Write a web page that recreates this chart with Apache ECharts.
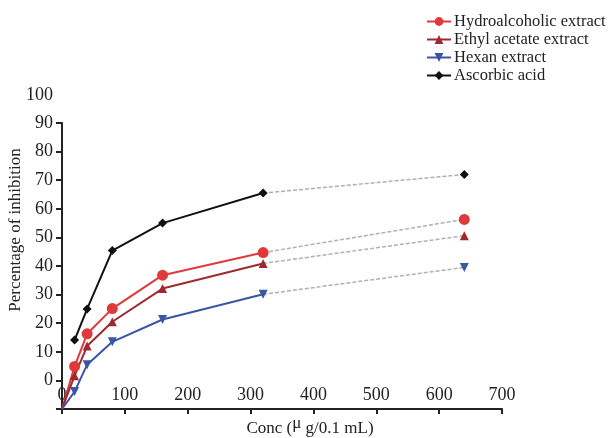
<!DOCTYPE html>
<html>
<head>
<meta charset="utf-8">
<script src="https://cdn.jsdelivr.net/npm/echarts@6/dist/echarts.min.js"></script>
<style>
  html, body { margin: 0; padding: 0; background: #fff; }
  #chart { width: 613px; height: 438px; }
</style>
</head>
<body>
<div id="chart"></div>
<script>
// concentrations (µg/0.1 mL); first point is the origin the extract lines start from
const conc = [0, 20, 40, 80, 160, 320, 640];
const hydro = [-10, 4.9, 16.3, 25.1, 36.8, 44.7, 56.3];
const ethyl = [-10, 1.6, 12.0, 20.5, 32.1, 40.9, 50.6];
const hexan = [-10, -3.9, 5.5, 13.5, 21.3, 30.1, 39.5];
const ascorbic = [null, 14.1, 25.0, 45.4, 55.0, 65.5, 72.0];
const names = ['Hydroalcoholic extract', 'Ethyl acetate extract', 'Hexan extract', 'Ascorbic acid'];
const yTopLabel = '100';
const xTitle = 'Conc (';
const xTitleMu = 'μ';
const xTitleRest = ' g/0.1 mL)';

const font = 'Liberation Serif';
const lastSolid = 5; // index of 320, solid lines end here

const looks = [
    { color: '#e0393c', symbol: 'circle', size: 11, rotate: 0 },
    { color: '#9c2a2e', symbol: 'triangle', size: 9, rotate: 0 },
    { color: '#3a55a4', symbol: 'triangle', size: 9, rotate: 180 },
    { color: '#111111', symbol: 'diamond', size: 9, rotate: 0 }
];

function solidData(vals) {
    const out = [];
    for (let i = 0; i <= lastSolid; i++) {
        if (vals[i] == null) continue;
        const item = { value: [conc[i], vals[i]] };
        if (i === 0) item.symbol = 'none';
        out.push(item);
    }
    return out;
}

function dashData(vals) {
    const out = [];
    for (let i = lastSolid; i < conc.length; i++) {
        const item = { value: [conc[i], vals[i]] };
        if (i === lastSolid) item.symbol = 'none';
        out.push(item);
    }
    return out;
}

const allVals = [hydro, ethyl, hexan, ascorbic];
const series = [];
allVals.forEach(function (vals, k) {
    const lk = looks[k];
    series.push({
        type: 'line',
        name: names[k] + '_ext',
        data: dashData(vals),
        symbol: lk.symbol,
        symbolSize: lk.size,
        symbolRotate: lk.rotate,
        itemStyle: { color: lk.color },
        lineStyle: { color: '#b0b0b0', width: 1.5, type: [4, 2] },
        z: 1,
        animation: false
    });
});
allVals.forEach(function (vals, k) {
    const lk = looks[k];
    series.push({
        type: 'line',
        name: names[k],
        data: solidData(vals),
        symbol: lk.symbol,
        symbolSize: lk.size,
        symbolRotate: lk.rotate,
        itemStyle: { color: lk.color },
        lineStyle: { color: lk.color, width: 2 },
        z: 3,
        animation: false
    });
});

const chart = echarts.init(document.getElementById('chart'));
chart.setOption({
    backgroundColor: '#fff',
    animation: false,
    grid: { left: 62, right: 111, top: 123, bottom: 29, containLabel: false, outerBoundsMode: 'none' },
    legend: {
        data: names,
        orient: 'vertical',
        left: 421,
        top: 8,
        itemWidth: 24,
        itemHeight: 11,
        itemGap: 1,
        textStyle: { fontFamily: font, fontSize: 16.5, color: '#222', padding: [0, 0, 0, -2] }
    },
    xAxis: {
        type: 'value',
        min: 0,
        max: 700,
        interval: 100,
        name: '{a|' + xTitle + '}{mu|' + xTitleMu + '}{a|' + xTitleRest + '}',
        nameLocation: 'middle',
        nameGap: 1,
        nameTextStyle: {
            padding: [0, 0, 0, 56],
            rich: {
                a: { fontFamily: font, fontSize: 17, color: '#222', padding: [7, 0, 0, 0] },
                mu: { fontFamily: font, fontSize: 17, color: '#222', padding: [0, 0, 4, 0] }
            }
        },
        axisLine: { onZero: false, lineStyle: { color: '#222', width: 2 } },
        axisTick: { show: true, inside: false, length: 5, lineStyle: { color: '#222', width: 2 } },
        axisLabel: { inside: true, margin: 5, fontFamily: font, fontSize: 18, color: '#222' },
        splitLine: { show: false }
    },
    yAxis: [{
        type: 'value',
        min: -10,
        max: 90,
        interval: 10,
        name: 'Percentage of inhibition',
        nameLocation: 'middle',
        nameGap: 34,
        nameTextStyle: { fontFamily: font, fontSize: 17, color: '#222', padding: [0, 0, 0, 72] },
        axisLine: { show: true, onZero: false, lineStyle: { color: '#222', width: 2 } },
        axisTick: { show: true, length: 6, lineStyle: { color: '#222', width: 2 } },
        axisLabel: {
            margin: 9,
            fontFamily: font,
            fontSize: 18,
            color: '#222',
            formatter: function (v) { return v < 0 ? '' : String(v); }
        },
        splitLine: { show: false }
    }, {
        type: 'value',
        position: 'left',
        min: -10,
        max: 90,
        interval: 10,
        name: yTopLabel,
        nameLocation: 'end',
        nameGap: 28,
        nameTextStyle: { fontFamily: font, fontSize: 18, color: '#222', align: 'right', verticalAlign: 'middle', padding: [0, 9, 0, 0] },
        axisLine: { show: false },
        axisTick: { show: false },
        axisLabel: { show: false },
        splitLine: { show: false }
    }],
    series: series
});
</script>
</body>
</html>
